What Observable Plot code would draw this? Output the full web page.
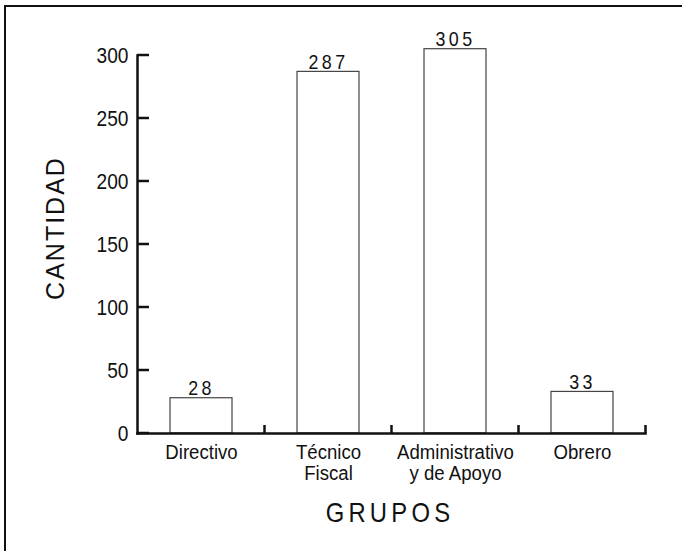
<!DOCTYPE html>
<html><head><meta charset="utf-8">
<script src="https://cdn.jsdelivr.net/npm/d3@7"></script>
<script src="https://cdn.jsdelivr.net/npm/@observablehq/plot@0.6"></script>
<style>
body{margin:0;background:#fff;}
#wrap{position:relative;width:682px;height:551px;overflow:hidden;}
#frame{position:absolute;left:4px;top:5px;width:700px;height:600px;border-left:2px solid #111;border-top:2px solid #111;pointer-events:none;}
#chart{position:absolute;left:0;top:0;}
.vlabel text{letter-spacing:4px;}
</style></head><body><div id="wrap"><div id="chart"></div><div id="frame"></div></div>
<script>
const categories = ["Directivo", "Técnico\nFiscal", "Administrativo\ny de Apoyo", "Obrero"];
const values = [28, 287, 305, 33];
const yTicks = [0, 50, 100, 150, 200, 250, 300];
const yTitle = "CANTIDAD";
const xTitle = "GRUPOS";

const data = categories.map((c, i) => ({grupo: c, cantidad: values[i]}));
const FONT = '"Liberation Sans",Arial,sans-serif';

const plot = Plot.plot({
  width: 682, height: 551,
  marginLeft: 137, marginRight: 37, marginTop: 55, marginBottom: 118,
  style: {fontFamily: FONT, fontSize: "21px", color: "#111", background: "transparent", overflow: "visible"},
  x: {domain: categories, paddingInner: 0.512, paddingOuter: 0.256, label: null},
  y: {domain: [0, 300], label: null},
  marks: [
    Plot.barY(data, {x: "grupo", y: "cantidad", fill: "white", stroke: "#444", strokeWidth: 1.2}),
    Plot.text(data, {x: "grupo", y: "cantidad", text: d => String(d.cantidad), lineAnchor: "bottom", dy: -3, fontSize: 21, fill: "#111", className: "vlabel"}),
    Plot.axisY(yTicks, {tickSize: 0, tickPadding: 9, fontSize: 22, label: null}),
    Plot.axisX({tickSize: 0, tickPadding: 11, fontSize: 20, lineHeight: 1.05, label: null}),
    Plot.frame({anchor: "left", strokeWidth: 2.5, stroke: "#111"}),
    Plot.frame({anchor: "bottom", strokeWidth: 2.5, stroke: "#111"})
  ]
});
document.getElementById("chart").appendChild(plot);

const svg = d3.select(plot);
const sx = plot.scale("x"), sy = plot.scale("y");
const step = sx.step, bw = sx.bandwidth;
const y0 = sy.apply(0);
const xLeft = sx.range[0];

// inward y ticks
svg.append("g").attr("stroke", "#111").attr("stroke-width", 2.5)
  .selectAll("line").data(yTicks).join("line")
  .attr("x1", xLeft).attr("x2", xLeft + 12)
  .attr("y1", t => sy.apply(t)).attr("y2", t => sy.apply(t));

// x ticks at group boundaries
svg.append("g").attr("stroke", "#111").attr("stroke-width", 2.5)
  .selectAll("line").data(categories).join("line")
  .attr("x1", c => sx.apply(c) + bw + (step - bw) / 2)
  .attr("x2", c => sx.apply(c) + bw + (step - bw) / 2)
  .attr("y1", y0).attr("y2", y0 - 8);

svg.append("text").text(yTitle)
  .attr("transform", "translate(64,228) rotate(-90)")
  .attr("text-anchor", "middle")
  .attr("font-family", FONT).attr("font-size", 25)
  .attr("letter-spacing", "2px").attr("fill", "#111");

const xt = svg.append("text").text(xTitle)
  .attr("class", "xtitle")
  .attr("x", 390).attr("y", 522)
  .attr("text-anchor", "middle")
  .attr("font-family", FONT).attr("font-size", 28)
  .attr("letter-spacing", "5px").attr("fill", "#111");

// condensed look: compress glyph widths
function squeeze(sel, f) {
  sel.each(function () {
    const ts = this.querySelectorAll("tspan");
    const els = ts.length ? Array.from(ts) : [this];
    for (const el of els) {
      const L = el.getComputedTextLength();
      el.setAttribute("textLength", L * f);
      el.setAttribute("lengthAdjust", "spacingAndGlyphs");
    }
  });
}
squeeze(svg.selectAll('g[aria-label="y-axis tick label"] text'), 0.87);
squeeze(svg.selectAll('g[aria-label="x-axis tick label"] text'), 0.93);
squeeze(svg.selectAll('.vlabel text'), 0.85);
squeeze(xt, 0.85);
</script></body></html>
